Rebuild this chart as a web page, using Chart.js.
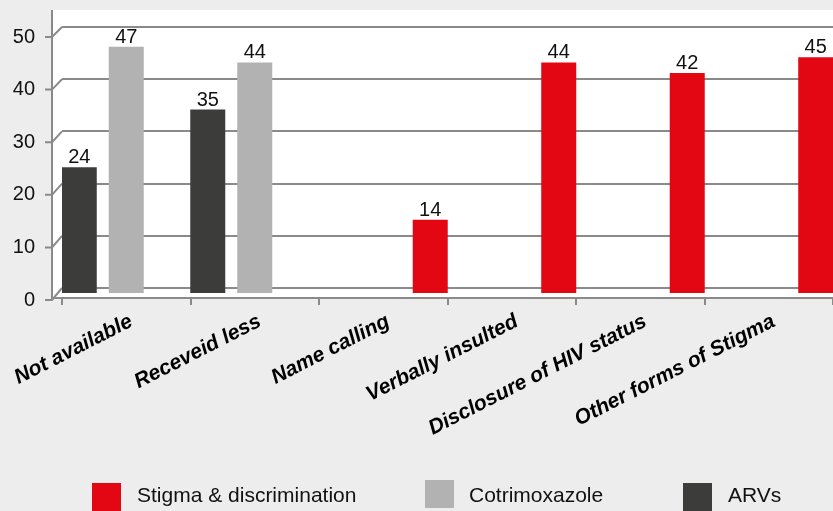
<!DOCTYPE html>
<html><head><meta charset="utf-8">
<script src="https://cdn.jsdelivr.net/npm/chart.js@4.4.1/dist/chart.umd.min.js"></script>
<style>
html,body{margin:0;padding:0;background:#ededed;}
#wrap{position:relative;width:833px;height:511px;overflow:hidden;}
canvas{display:block;}
#legend{position:absolute;left:0;top:0;width:833px;height:511px;pointer-events:none;font-family:"Liberation Sans",Arial,sans-serif;font-size:21px;color:#111;}
.sw{position:absolute;width:29px;height:28px;}
.lt{position:absolute;line-height:21px;white-space:nowrap;}
</style></head><body>
<div id="wrap"><canvas id="c" width="833" height="511"></canvas><div id="legend"></div></div>
<script>
// ---- data ----
const categories = ["Not available", "Receveid less", "Name calling", "Verbally insulted", "Disclosure of HIV status", "Other forms of Stigma"];
const arvValues = [24, 35, null, null, null, null];
const cotrimValues = [47, 44, null, null, null, null];
const stigmaValues = [null, null, 14, 44, 42, 45];
const yTickValues = [0, 10, 20, 30, 40, 50];
const seriesNames = ["ARVs", "Cotrimoxazole", "Stigma & discrimination"];
const seriesColors = ["#3c3c3b", "#b2b2b2", "#e30613"];

const FONT = '"Liberation Sans", Arial, sans-serif';
const LINE = '#8a8a8a';

const bgPlugin = {
  id: 'bg',
  beforeDraw(chart) {
    const {ctx, chartArea: a, width, height} = chart;
    ctx.save();
    ctx.fillStyle = '#ededed';
    ctx.fillRect(0, 0, width, height);
    ctx.fillStyle = '#ffffff';
    ctx.fillRect(a.left - 10, a.top, a.right - a.left + 10, a.bottom - a.top);
    ctx.restore();
  }
};

const framePlugin = {
  id: 'frame',
  beforeDatasetsDraw(chart) {
    const {ctx, chartArea: a} = chart;
    const front = chart.scales.yLabels, back = chart.scales.yGrid;
    ctx.save();
    ctx.strokeStyle = LINE;
    ctx.lineWidth = 2;
    ctx.beginPath();
    ctx.moveTo(a.left - 10, a.top);
    ctx.lineTo(a.left - 10, front.getPixelForValue(0));
    ctx.stroke();
    yTickValues.forEach(v => {
      const fy = front.getPixelForValue(v), by = back.getPixelForValue(v);
      ctx.beginPath();
      ctx.moveTo(a.left - 17, fy);
      ctx.lineTo(a.left - 10, fy);
      ctx.lineTo(a.left, by);
      ctx.stroke();
    });
    ctx.beginPath();
    ctx.moveTo(a.left - 10, a.bottom);
    ctx.lineTo(a.left, a.bottom);
    ctx.stroke();
    ctx.restore();
  }
};

const valueLabels = {
  id: 'valueLabels',
  afterDatasetsDraw(chart) {
    const ctx = chart.ctx;
    ctx.save();
    ctx.font = '20px ' + FONT;
    ctx.fillStyle = '#111';
    ctx.textAlign = 'center';
    ctx.textBaseline = 'alphabetic';
    chart.data.datasets.forEach((ds, i) => {
      chart.getDatasetMeta(i).data.forEach((bar, j) => {
        const v = ds.data[j];
        if (v === null || v === undefined) return;
        ctx.fillText(String(v), bar.x, bar.y - 4);
      });
    });
    ctx.restore();
  }
};

function noPad(s) { s.paddingTop = 0; s.paddingBottom = 0; s.paddingLeft = 0; s.paddingRight = 0; }

const chart = new Chart(document.getElementById('c'), {
  type: 'bar',
  data: {
    labels: categories,
    datasets: [
      {label: seriesNames[0], data: arvValues, backgroundColor: seriesColors[0], yAxisID: 'y'},
      {label: seriesNames[1], data: cotrimValues, backgroundColor: seriesColors[1], yAxisID: 'y'},
      {label: seriesNames[2], data: stigmaValues, backgroundColor: seriesColors[2], yAxisID: 'y'}
    ]
  },
  options: {
    responsive: false,
    animation: false,
    devicePixelRatio: 1,
    categoryPercentage: 1.097,
    barPercentage: 0.745,
    layout: {padding: {top: 10, right: 0, left: 0, bottom: 0}},
    plugins: {legend: {display: false}, tooltip: {enabled: false}},
    scales: {
      x: {
        offset: true,
        grid: {display: true, drawOnChartArea: false, drawTicks: true, tickLength: 7, color: LINE, lineWidth: 2, offset: true},
        border: {display: true, color: LINE, width: 2},
        ticks: {autoSkip: false, maxRotation: 27, minRotation: 27, padding: 4, labelOffset: 5, color: '#000',
          font: {family: FONT, size: 21, weight: 'bold', style: 'italic'}},
        afterFit(s) { s.height = 213; noPad(s); }
      },
      y: {
        display: false, min: -0.954, max: 54.01
      },
      yLabels: {
        position: 'left', min: 0.38, max: 55.13,
        grid: {display: false, drawTicks: false},
        border: {display: false},
        ticks: {padding: 27, color: '#111', font: {family: FONT, size: 20}},
        afterBuildTicks(s) { s.ticks = yTickValues.map(v => ({value: v})); },
        afterFit(s) { s.width = 62; noPad(s); }
      },
      yGrid: {
        position: 'left', min: -1.916, max: 53.26,
        grid: {display: true, drawOnChartArea: true, drawTicks: false, color: LINE, lineWidth: 2},
        border: {display: false},
        ticks: {display: false},
        afterBuildTicks(s) { s.ticks = yTickValues.map(v => ({value: v})); },
        afterFit(s) { s.width = 0; noPad(s); }
      }
    }
  },
  plugins: [bgPlugin, framePlugin, valueLabels]
});

// ---- HTML legend (reverse dataset order) ----
const legendPos = [
  {box: [92, 483], text: [137, 484]},
  {box: [425, 480], text: [469, 484]},
  {box: [683, 483], text: [728, 484]}
];
const legend = document.getElementById('legend');
chart.data.datasets.slice().reverse().forEach((ds, i) => {
  const p = legendPos[i];
  const sw = document.createElement('div');
  sw.className = 'sw';
  sw.style.left = p.box[0] + 'px'; sw.style.top = p.box[1] + 'px';
  sw.style.background = ds.backgroundColor;
  const t = document.createElement('div');
  t.className = 'lt';
  t.style.left = p.text[0] + 'px'; t.style.top = p.text[1] + 'px';
  t.textContent = ds.label;
  legend.appendChild(sw); legend.appendChild(t);
});
</script>
</body></html>
